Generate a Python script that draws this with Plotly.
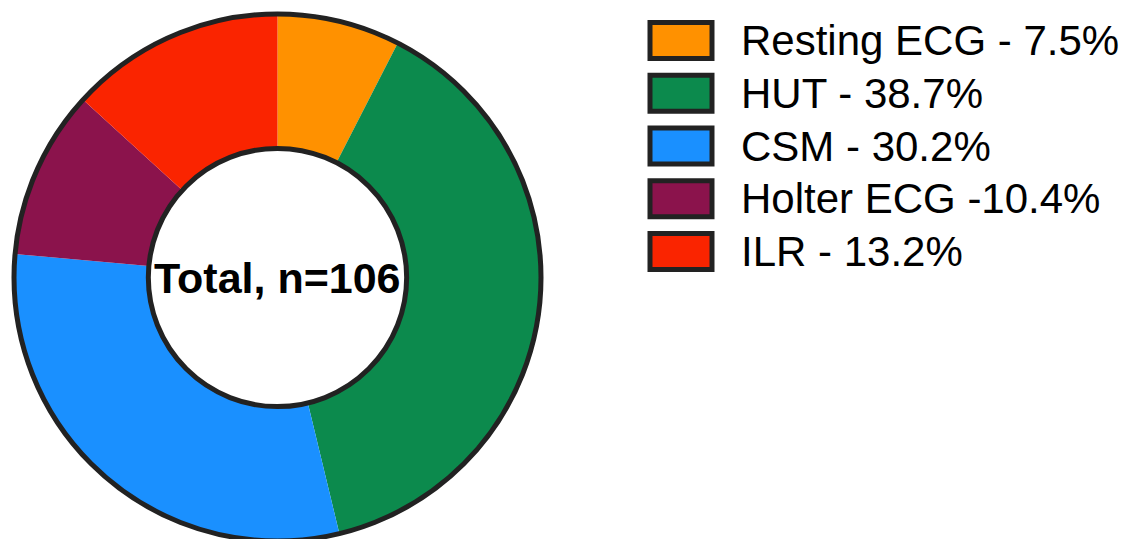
import plotly.graph_objects as go

# ---- data ----
categories = ["Resting ECG", "HUT", "CSM", "Holter ECG", "ILR"]
counts = [8, 41, 32, 11, 14]
legend_labels = ["Resting ECG - 7.5%", "HUT - 38.7%", "CSM - 30.2%", "Holter ECG -10.4%", "ILR - 13.2%"]
colors = ["#FF9100", "#0C8A4D", "#1A90FF", "#8B134C", "#FA2400"]
center_text = "Total, n=106"

W, H = 1129, 539
OFF = 8  # default page body margin
edge = "#222222"
font_family = "Liberation Sans, Arial, Helvetica, sans-serif"

dom_x = [(14 - OFF) / W, (541 - OFF) / W]
dom_y = [0, 1]
hole = 0.49

fig = go.Figure()
fig.add_trace(go.Pie(
    labels=categories, values=counts, sort=False, direction="clockwise", rotation=0,
    hole=hole, marker=dict(colors=colors, line=dict(width=0)),
    textinfo="none", showlegend=False, domain=dict(x=dom_x, y=dom_y),
))
# outline ring (outer + inner circle only)
fig.add_trace(go.Pie(
    labels=["outline"], values=[1], sort=False, hole=hole,
    marker=dict(colors=["rgba(0,0,0,0)"], line=dict(color=edge, width=5)),
    textinfo="none", showlegend=False, hoverinfo="skip", domain=dict(x=dom_x, y=dom_y),
))

shapes = []
annotations = [dict(
    text=f"<b>{center_text}</b>", x=(dom_x[0] + dom_x[1]) / 2, y=0.5, xref="paper", yref="paper",
    showarrow=False, xanchor="center", yanchor="middle",
    font=dict(family=font_family, size=43, color="black"),
)]

# manual legend (large swatches)
row0, row_step = 40.5 - OFF, 52.75
sw_x0, sw_x1, sw_h = 650 - OFF, 712 - OFF, 36
text_x = 739 - OFF
for i, (lab, col) in enumerate(zip(legend_labels, colors)):
    yc = row0 + i * row_step
    shapes.append(dict(
        type="rect", xref="paper", yref="paper",
        x0=sw_x0 / W, x1=sw_x1 / W, y0=1 - (yc - sw_h / 2) / H, y1=1 - (yc + sw_h / 2) / H,
        fillcolor=col, line=dict(color=edge, width=5),
    ))
    annotations.append(dict(
        text=lab, x=text_x / W, y=1 - yc / H, xref="paper", yref="paper",
        showarrow=False, xanchor="left", yanchor="middle",
        font=dict(family=font_family, size=42, color="black"),
    ))

fig.update_layout(
    width=W, height=H, margin=dict(l=0, r=0, t=0, b=0),
    paper_bgcolor="white", plot_bgcolor="white",
    shapes=shapes, annotations=annotations, showlegend=False,
)

fig.write_html("out.html")
